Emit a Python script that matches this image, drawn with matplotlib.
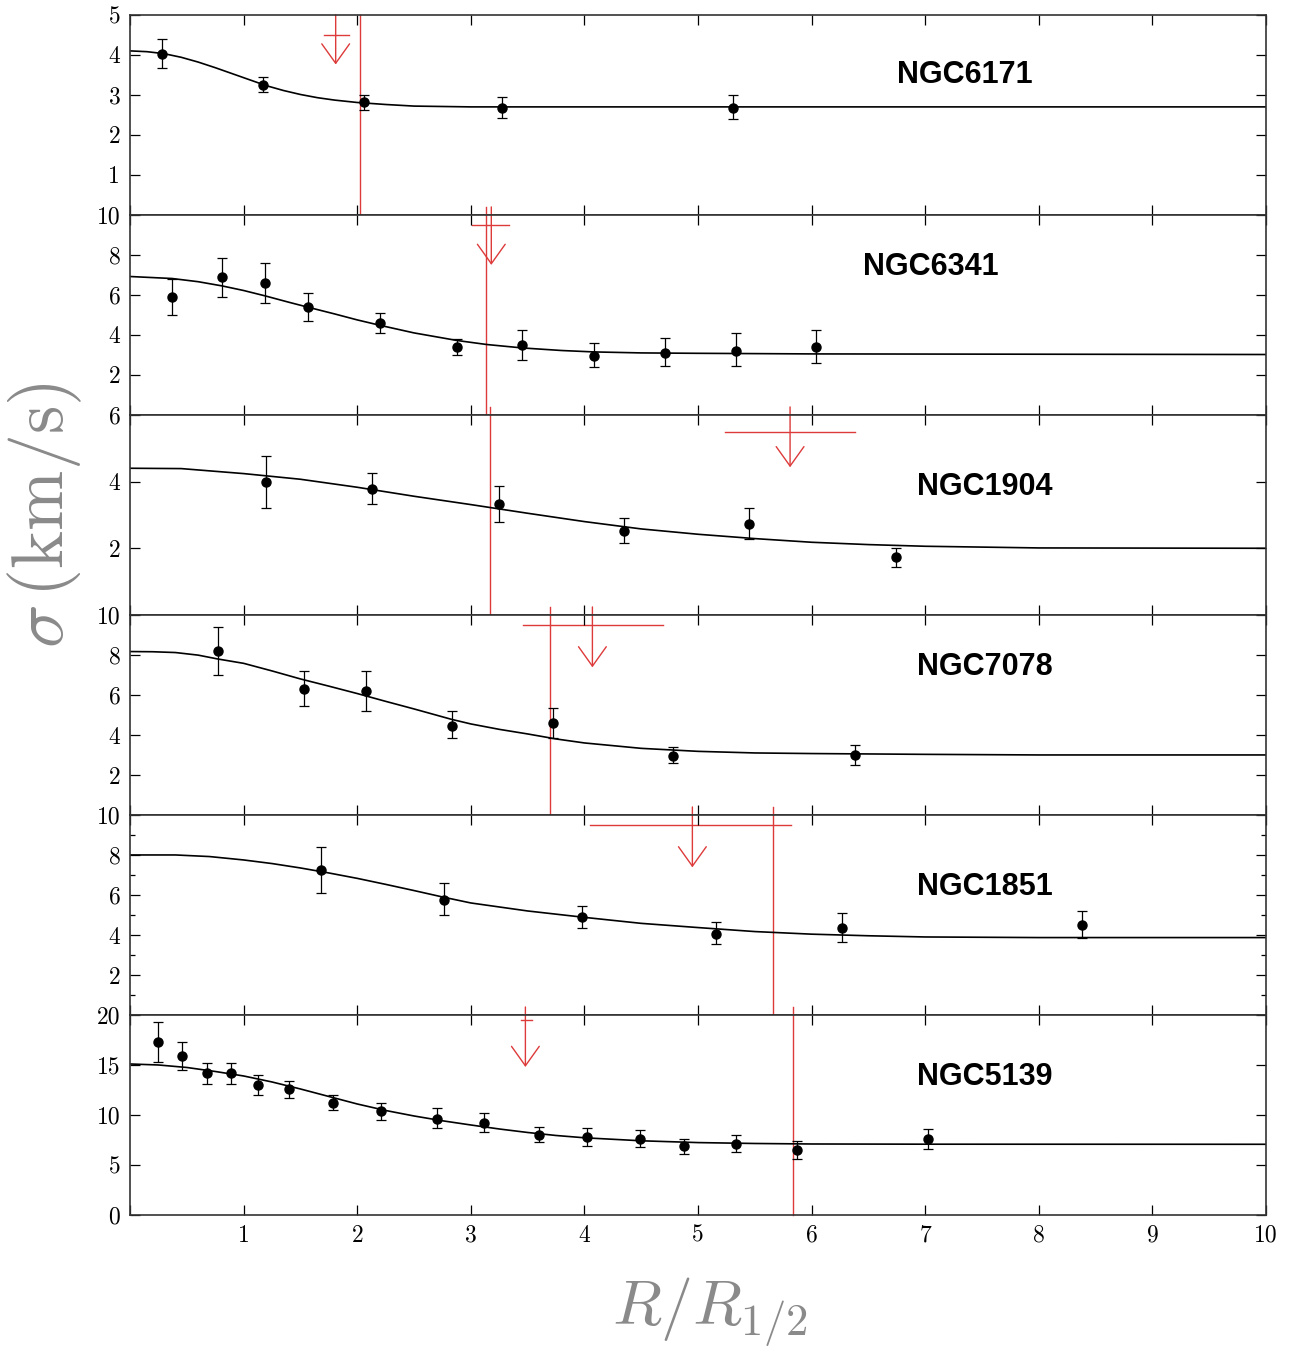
import numpy as np
import matplotlib.pyplot as plt
from matplotlib.ticker import MultipleLocator

plt.rcParams['mathtext.fontset'] = 'cm'

# ---- data ----
names = ['NGC6171', 'NGC6341', 'NGC1904', 'NGC7078', 'NGC1851', 'NGC5139']

# NGC6171
n6171_r = [0.28, 1.17, 2.06, 3.27, 5.31]
n6171_s = [4.02, 3.25, 2.82, 2.68, 2.68]
n6171_lo = [3.67, 3.07, 2.63, 2.43, 2.40]
n6171_hi = [4.39, 3.44, 3.00, 2.95, 3.00]
n6171_fit_r = [0, 0.15, 0.3, 0.45, 0.6, 0.75, 0.9, 1.05, 1.2, 1.35, 1.5, 1.65, 1.8,
               2.0, 2.25, 2.5, 3.0, 4.0, 10]
n6171_fit_s = [4.10, 4.08, 4.03, 3.94, 3.82, 3.68, 3.53, 3.38, 3.23, 3.11, 3.01, 2.93,
               2.87, 2.81, 2.76, 2.72, 2.70, 2.70, 2.70]

# NGC6341
n6341_r = [0.37, 0.81, 1.19, 1.57, 2.20, 2.88, 3.45, 4.08, 4.71, 5.33, 6.04]
n6341_s = [5.88, 6.88, 6.58, 5.38, 4.58, 3.38, 3.48, 2.97, 3.12, 3.22, 3.38]
n6341_lo = [5.0, 5.9, 5.6, 4.7, 4.1, 3.0, 2.75, 2.4, 2.45, 2.45, 2.6]
n6341_hi = [6.8, 7.85, 7.6, 6.1, 5.1, 3.8, 4.25, 3.6, 3.85, 4.1, 4.25]
n6341_fit_r = [0, 0.37, 0.6, 0.81, 1.0, 1.19, 1.4, 1.57, 1.8, 2.0, 2.2, 2.5, 2.88, 3.14,
               3.45, 3.8, 4.08, 4.5, 5.0, 6.0, 10]
n6341_fit_s = [6.92, 6.82, 6.66, 6.45, 6.22, 5.95, 5.63, 5.38, 5.05, 4.75, 4.48, 4.10,
               3.72, 3.52, 3.35, 3.22, 3.15, 3.10, 3.08, 3.05, 3.02]

# NGC1904
n1904_r = [1.20, 2.13, 3.25, 4.35, 5.45, 6.74]
n1904_s = [4.00, 3.78, 3.33, 2.53, 2.72, 1.74]
n1904_lo = [3.22, 3.33, 2.80, 2.15, 2.28, 1.45]
n1904_hi = [4.78, 4.25, 3.88, 2.92, 3.20, 2.00]
n1904_fit_r = [0, 0.45, 1.0, 1.5, 2.0, 2.5, 3.0, 3.5, 4.0, 4.5, 5.0, 5.5, 6.0, 6.5, 7.0,
               8.0, 10]
n1904_fit_s = [4.40, 4.39, 4.24, 4.07, 3.83, 3.56, 3.31, 3.05, 2.80, 2.58, 2.42, 2.29,
               2.18, 2.11, 2.06, 2.01, 2.00]

# NGC7078
n7078_r = [0.77, 1.53, 2.08, 2.83, 3.72, 4.78, 6.38]
n7078_s = [8.20, 6.28, 6.20, 4.47, 4.58, 2.97, 2.98]
n7078_lo = [7.0, 5.45, 5.2, 3.85, 3.85, 2.6, 2.5]
n7078_hi = [9.4, 7.2, 7.2, 5.2, 5.33, 3.4, 3.5]
n7078_fit_r = [0, 0.2, 0.4, 0.6, 0.77, 1.0, 1.25, 1.5, 1.75, 2.0, 2.25, 2.5, 2.83, 3.0,
               3.25, 3.5, 3.75, 4.0, 4.5, 5.0, 5.5, 6.0, 7.0, 8.0, 10]
n7078_fit_s = [8.17, 8.16, 8.12, 7.99, 7.80, 7.58, 7.20, 6.80, 6.44, 6.07, 5.68, 5.30,
               4.78, 4.55, 4.28, 4.05, 3.80, 3.60, 3.33, 3.18, 3.10, 3.07, 3.03, 3.00, 3.00]

# NGC1851
n1851_r = [1.68, 2.76, 3.98, 5.16, 6.27, 8.38]
n1851_s = [7.25, 5.75, 4.92, 4.05, 4.37, 4.50]
n1851_lo = [6.1, 5.0, 4.35, 3.55, 3.65, 3.85]
n1851_hi = [8.4, 6.6, 5.45, 4.65, 5.1, 5.2]
n1851_fit_r = [0, 0.4, 0.7, 1.0, 1.25, 1.5, 1.75, 2.0, 2.25, 2.5, 2.75, 3.0, 3.5, 4.0,
               4.5, 5.0, 5.5, 6.0, 6.5, 7.0, 8.0, 10]
n1851_fit_s = [8.00, 8.00, 7.92, 7.75, 7.57, 7.35, 7.10, 6.83, 6.53, 6.22, 5.90, 5.60,
               5.20, 4.88, 4.58, 4.37, 4.17, 4.04, 3.96, 3.90, 3.87, 3.87]

# NGC5139
n5139_r = [0.25, 0.46, 0.675, 0.887, 1.13, 1.40, 1.79, 2.21, 2.70, 3.12, 3.60, 4.02,
           4.49, 4.88, 5.33, 5.87, 7.02]
n5139_s = [17.27, 15.9, 14.17, 14.2, 13.03, 12.57, 11.23, 10.37, 9.57, 9.17, 7.97, 7.77,
           7.6, 6.87, 7.1, 6.47, 7.57]
n5139_lo = [15.3, 14.5, 13.1, 13.1, 12.0, 11.7, 10.5, 9.5, 8.7, 8.3, 7.3, 6.9,
            6.8, 6.1, 6.3, 5.6, 6.6]
n5139_hi = [19.3, 17.3, 15.2, 15.2, 14.0, 13.4, 12.0, 11.2, 10.7, 10.2, 8.8, 8.7,
            8.5, 7.6, 8.0, 7.4, 8.6]
n5139_fit_r = [0, 0.25, 0.5, 0.75, 1.0, 1.25, 1.5, 1.75, 2.0, 2.25, 2.5, 2.75, 3.0, 3.25,
               3.5, 3.75, 4.0, 4.5, 5.0, 5.5, 6.0, 7.0, 10]
n5139_fit_s = [15.1, 15.0, 14.75, 14.35, 13.9, 13.3, 12.6, 11.85, 11.1, 10.45, 9.9, 9.42,
               9.0, 8.6, 8.25, 7.95, 7.72, 7.42, 7.24, 7.15, 7.1, 7.08, 7.07]

# red markers: vertical line, and limit arrow (x, bar y, bar x range, tip y)
vline_x = [2.02, 3.13, 3.17, 3.70, 5.66, 5.84]
arrow_x = [1.81, 3.18, 5.81, 4.07, 4.95, 3.48]
bar_y = [4.5, 9.5, 5.5, 9.5, 9.5, 19.5]
bar_lo = [1.71, 3.01, 5.24, 3.46, 4.05, 3.44]
bar_hi = [1.93, 3.34, 6.38, 4.69, 5.82, 3.54]
tip_y = [3.76, 7.5, 4.43, 7.38, 7.38, 14.8]

ylims = [5, 10, 6, 10, 10, 20]
ysteps = [1, 2, 2, 2, 2, 5]

panels = [
    (n6171_r, n6171_s, n6171_lo, n6171_hi, n6171_fit_r, n6171_fit_s),
    (n6341_r, n6341_s, n6341_lo, n6341_hi, n6341_fit_r, n6341_fit_s),
    (n1904_r, n1904_s, n1904_lo, n1904_hi, n1904_fit_r, n1904_fit_s),
    (n7078_r, n7078_s, n7078_lo, n7078_hi, n7078_fit_r, n7078_fit_s),
    (n1851_r, n1851_s, n1851_lo, n1851_hi, n1851_fit_r, n1851_fit_s),
    (n5139_r, n5139_s, n5139_lo, n5139_hi, n5139_fit_r, n5139_fit_s),
]

# label placement (data x, axes y)
label_pos = [(6.75, 0.70), (6.45, 0.74), (6.93, 0.64), (6.93, 0.74), (6.93, 0.64), (6.93, 0.69)]

red = '#dd3a3a'

fig, axes = plt.subplots(6, 1, figsize=(12.89, 13.53), dpi=100, sharex=True,
                         gridspec_kw=dict(hspace=0))
fig.subplots_adjust(left=0.1009, right=0.9822, bottom=0.102, top=0.989)

for i, ax in enumerate(axes):
    r, s, lo, hi, fr, fs = panels[i]
    s = np.array(s)
    yerr = [s - np.array(lo), np.array(hi) - s]

    ax.plot(fr, fs, color='black', lw=1.2, zorder=2)
    ax.errorbar(r, s, yerr=yerr, fmt='o', color='black', ms=6.5, capsize=3.5,
                elinewidth=0.9, capthick=0.9, zorder=3)

    top = 1.0 if i == 0 else 1.04
    ax.plot([vline_x[i], vline_x[i]], [0, top], transform=ax.get_xaxis_transform(),
            color=red, lw=1.0, clip_on=False, zorder=1.5)
    ax.plot([bar_lo[i], bar_hi[i]], [bar_y[i], bar_y[i]], color=red, lw=1.0, zorder=1.5)
    ax.annotate('', xy=(arrow_x[i], tip_y[i]), xycoords='data',
                xytext=(arrow_x[i], top), textcoords=ax.get_xaxis_transform(),
                arrowprops=dict(arrowstyle='->,head_length=1.4,head_width=1.0',
                                color=red, lw=1.0, shrinkA=0, shrinkB=0),
                annotation_clip=False, zorder=1.5)

    lx, ly = label_pos[i]
    ax.text(lx, ly, names[i], transform=ax.get_xaxis_transform(), ha='left', va='center',
            fontsize=22, fontweight='bold', family='Liberation Sans')

    ax.set_xlim(0, 10)
    ax.set_ylim(0, ylims[i])
    yt = np.arange(0, ylims[i] + 0.01, ysteps[i])
    ax.set_yticks(yt)
    ylab = ['%d' % v for v in yt]
    if i < 5:
        ylab[0] = ''
    ax.set_yticklabels(ylab, fontfamily='cmr10')
    if i == 4:
        ax.yaxis.set_minor_locator(MultipleLocator(1))

    ax.set_xticks(range(0, 11))
    ax.tick_params(which='both', direction='in', top=True, right=True, width=0.9,
                   labelsize=17, pad=7)
    ax.tick_params(which='major', length=7)
    ax.tick_params(which='minor', length=3.5)
    for sp in ax.spines.values():
        sp.set_linewidth(1.2)
        sp.set_color('#333333')

axes[-1].set_xticklabels([''] + [str(v) for v in range(1, 11)], fontfamily='cmr10')

fig.text(45 / 1289, 1 - 515 / 1353, r'$\sigma\,(\mathrm{km/s})$', rotation=90,
         ha='center', va='center', fontsize=52, color='#8a8a8a')
fig.text(710 / 1289, 1 - 1312 / 1353, r'$R/R_{1/2}$', ha='center', va='center',
         fontsize=46, color='#8a8a8a')

fig.savefig('out.png', dpi=100)
